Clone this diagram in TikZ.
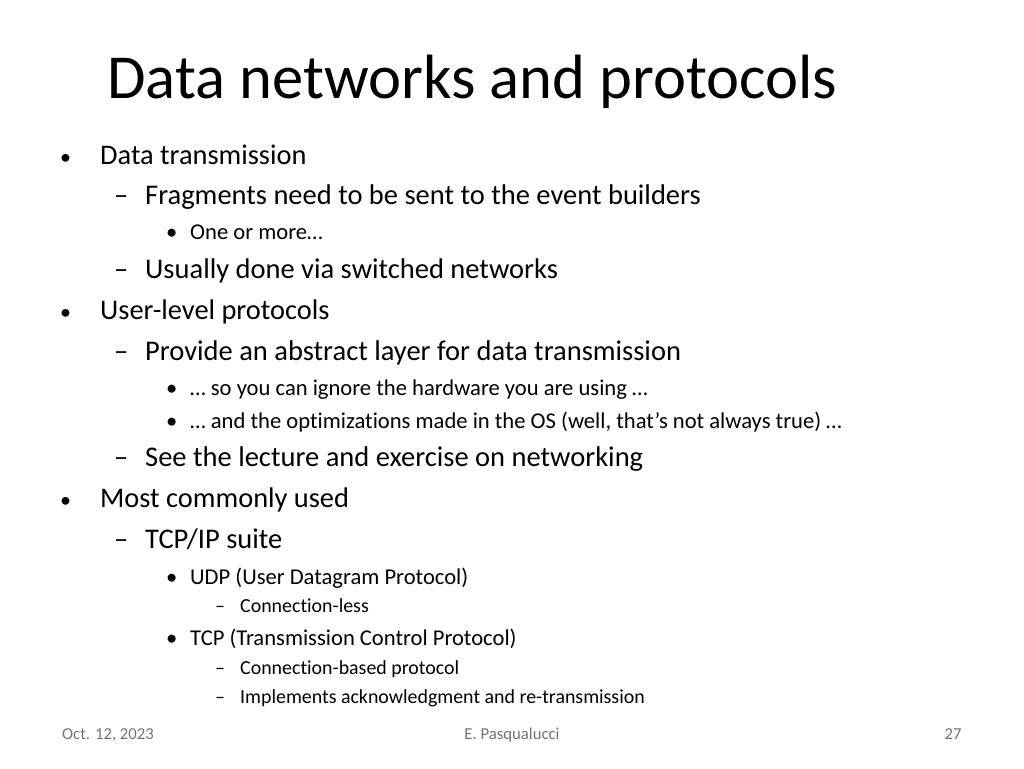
\documentclass[tikz,border=0pt]{standalone}
\usepackage{fontspec}
\setmainfont[RawFeature={-liga;-clig}]{Carlito}
\begin{document}
\begin{tikzpicture}[x=1pt,y=-1pt,
  txt/.style={anchor=base west,inner sep=0pt},
  lone/.style={txt,font=\fontsize{28.4}{32}\selectfont},
  ltwo/.style={txt,font=\fontsize{28.5}{32}\selectfont},
  lthree/.style={txt,font=\fontsize{22.6}{26}\selectfont},
  lfour/.style={txt,font=\fontsize{19.9}{23}\selectfont},
  dot/.style={txt,font=\fontsize{22}{26}\selectfont},
  foot/.style={anchor=base,inner sep=0pt,font=\fontsize{16.7}{19}\selectfont,color=black!55}]
\useasboundingbox (0,0) rectangle (1024,768);
\node[txt,font=\fontsize{62.6}{70}\selectfont] (title) at (107,98) {Data networks and protocols};
% level one
\foreach \yy/\tt [count=\i] in {164/Data transmission,319/User-level protocols,507/Most commonly used}
 {\node[dot] (bA\i) at (60,\yy) {•};
  \node[lone] (tA\i) at (100,\yy) {\tt};}
% level two
\foreach \yy/\tt [count=\i] in {204/Fragments need to be sent to the event builders,278/Usually done via switched networks,360/Provide an abstract layer for data transmission,466/See the lecture and exercise on networking,548/{TCP/IP suite}}
 {\node[ltwo] (bB\i) at (114,\yy) {–};
  \node[ltwo] (tB\i) at (145,\yy) {\tt};}
% level three
\foreach \yy/\tt [count=\i] in {239/One or more…,395/… so you can ignore the hardware you are using …,428/{… and the optimizations made in the OS (well, that’s not always true) …},584/UDP (User Datagram Protocol),645/TCP (Transmission Control Protocol)}
 {\node[lthree] (bC\i) at (166,\yy) {•};
  \node[lthree] (tC\i) at (190,\yy) {\tt};}
% level four
\foreach \yy/\tt [count=\i] in {612/Connection-less,674/Connection-based protocol,703/Implements acknowledgment and re-transmission}
 {\node[lfour] (bD\i) at (215,\yy) {–};
  \node[lfour] (tD\i) at (240,\yy) {\tt};}
% footer
\node[foot] (date) at (108,739) {Oct. 12, 2023};
\node[foot] (author) at (512,739) {E. Pasqualucci};
\node[foot] (page) at (953,739) {27};
\end{tikzpicture}
\end{document}
